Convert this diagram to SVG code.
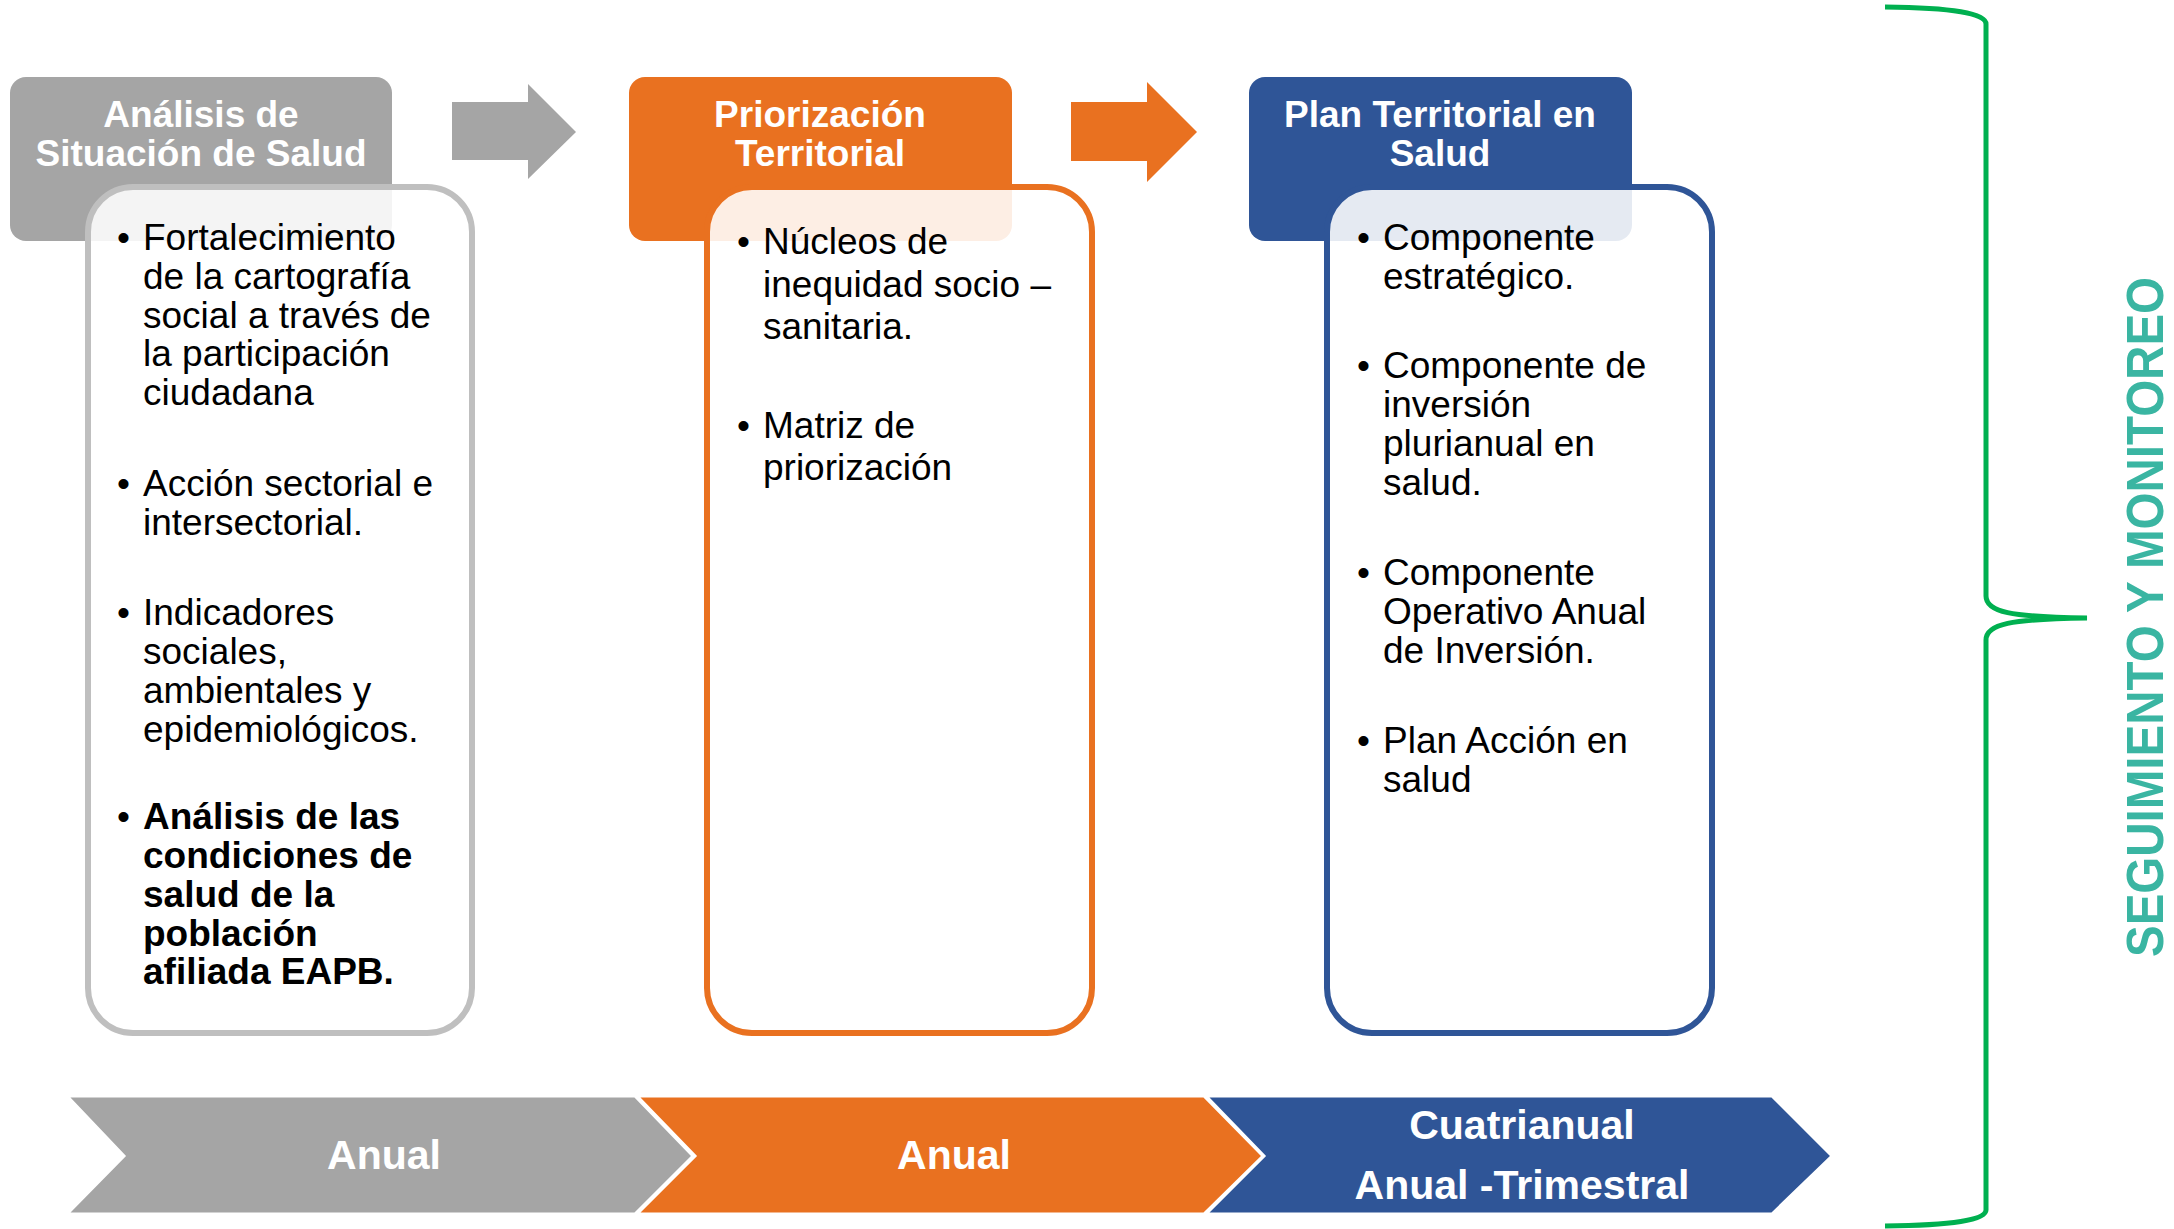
<svg xmlns="http://www.w3.org/2000/svg" width="2174" height="1229" viewBox="0 0 2174 1229">
<style>
.hdr{font-family:"Liberation Sans",Arial,sans-serif;font-weight:bold;font-size:37px;fill:#fff;text-anchor:middle}
.body{font-family:"Liberation Sans",Arial,sans-serif;font-size:37px;fill:#000}
.b{font-weight:bold}
.chev{stroke:#fff;stroke-width:3}
.ctext{font-family:"Liberation Sans",Arial,sans-serif;font-weight:bold;font-size:41px;fill:#fff;text-anchor:middle}
.box{fill:#fff;fill-opacity:0.88;stroke-width:6}
</style>
<rect width="2174" height="1229" fill="#fff"/>

<g id="connectors">
  <path d="M452,102 L528,102 L528,84 L576,132 L528,179 L528,160 L452,160 Z" fill="#a5a5a5"/>
  <path d="M1071,102 L1147,102 L1147,82 L1197,132 L1147,182 L1147,161 L1071,161 Z" fill="#e97120"/>
</g>

<g id="node-analisis">
  <rect x="10" y="77" width="382" height="164" rx="16" fill="#a5a5a5"/>
  <text class="hdr" x="201" y="127">Análisis de</text>
  <text class="hdr" x="201" y="166">Situación de Salud</text>
  <rect class="box" x="88" y="187" width="384" height="846" rx="45" stroke="#bfbfbf"/>
  <g class="body">
    <text x="117" y="250">•</text>
    <text x="143" y="250">Fortalecimiento</text>
    <text x="143" y="289">de la cartografía</text>
    <text x="143" y="328">social a través de</text>
    <text x="143" y="366">la participación</text>
    <text x="143" y="405">ciudadana</text>
    <text x="117" y="496">•</text>
    <text x="143" y="496">Acción sectorial e</text>
    <text x="143" y="535">intersectorial.</text>
    <text x="117" y="625">•</text>
    <text x="143" y="625">Indicadores</text>
    <text x="143" y="664">sociales,</text>
    <text x="143" y="703">ambientales y</text>
    <text x="143" y="742">epidemiológicos.</text>
    <text x="117" y="829">•</text>
    <text class="b" x="143" y="829">Análisis de las</text>
    <text class="b" x="143" y="868">condiciones de</text>
    <text class="b" x="143" y="907">salud de la</text>
    <text class="b" x="143" y="946">población</text>
    <text class="b" x="143" y="984">afiliada EAPB.</text>
  </g>
</g>

<g id="node-priorizacion">
  <rect x="629" y="77" width="383" height="164" rx="16" fill="#e97120"/>
  <text class="hdr" x="820" y="127">Priorización</text>
  <text class="hdr" x="820" y="166">Territorial</text>
  <rect class="box" x="707" y="187" width="385" height="846" rx="45" stroke="#e97120"/>
  <g class="body">
    <text x="737" y="254">•</text>
    <text x="763" y="254">Núcleos de</text>
    <text x="763" y="297">inequidad socio –</text>
    <text x="763" y="339">sanitaria.</text>
    <text x="737" y="438">•</text>
    <text x="763" y="438">Matriz de</text>
    <text x="763" y="480">priorización</text>
  </g>
</g>

<g id="node-plan">
  <rect x="1249" y="77" width="383" height="164" rx="16" fill="#2f5597"/>
  <text class="hdr" x="1440" y="127">Plan Territorial en</text>
  <text class="hdr" x="1440" y="166">Salud</text>
  <rect class="box" x="1327" y="187" width="385" height="846" rx="45" stroke="#2f5597"/>
  <g class="body">
    <text x="1357" y="250">•</text>
    <text x="1383" y="250">Componente</text>
    <text x="1383" y="289">estratégico.</text>
    <text x="1357" y="378">•</text>
    <text x="1383" y="378">Componente de</text>
    <text x="1383" y="417">inversión</text>
    <text x="1383" y="456">plurianual en</text>
    <text x="1383" y="495">salud.</text>
    <text x="1357" y="585">•</text>
    <text x="1383" y="585">Componente</text>
    <text x="1383" y="624">Operativo Anual</text>
    <text x="1383" y="663">de Inversión.</text>
    <text x="1357" y="753">•</text>
    <text x="1383" y="753">Plan Acción en</text>
    <text x="1383" y="792">salud</text>
  </g>
</g>

<g id="timeline-anual-1">
  <path class="chev" d="M67,1096 L635,1096 L693,1156 L635,1214 L67,1214 L124,1156 Z" fill="#a5a5a5"/>
  <text class="ctext" x="384" y="1169">Anual</text>
</g>
<g id="timeline-anual-2">
  <path class="chev" d="M637,1096 L1204,1096 L1263,1156 L1204,1214 L637,1214 L695,1156 Z" fill="#e97120"/>
  <text class="ctext" x="954" y="1169">Anual</text>
</g>
<g id="timeline-cuatrianual">
  <path class="chev" d="M1206,1096 L1772,1096 L1832,1156 L1772,1214 L1206,1214 L1264,1156 Z" fill="#2f5597"/>
  <text class="ctext" x="1522" y="1139">Cuatrianual</text>
  <text class="ctext" x="1522" y="1199">Anual -Trimestral</text>
</g>

<g id="seguimiento">
  <path d="M1885,7 Q1986,8 1986,24 L1986,596 C1986,612 2010,617 2087,618 C2010,619 1986,624 1986,640 L1986,1210 Q1986,1225 1885,1226" fill="none" stroke="#00b050" stroke-width="5"/>
  <text transform="translate(2163,617) rotate(-90)" text-anchor="middle" font-family="'Liberation Sans',Arial,sans-serif" font-weight="bold" font-size="51" fill="#3ab5a2" textLength="680" lengthAdjust="spacingAndGlyphs">SEGUIMIENTO Y MONITOREO</text>
</g>
</svg>
